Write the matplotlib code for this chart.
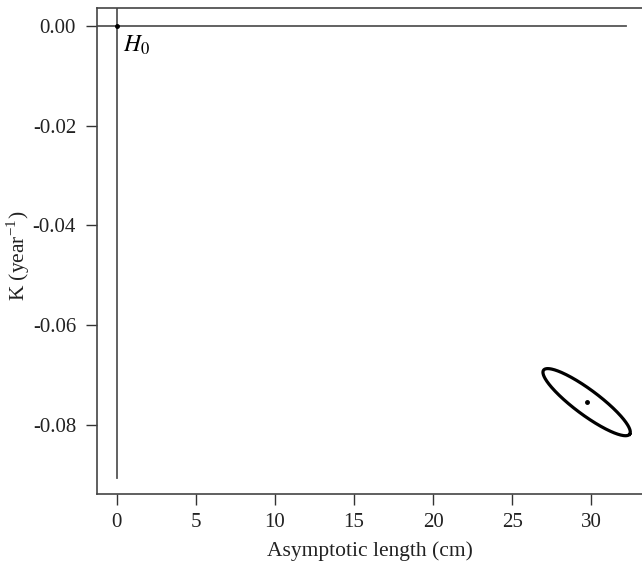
import numpy as np
import matplotlib.pyplot as plt

# datos
h0_x = [0.0]
h0_y = [0.0]
estim_x = [29.7]          # longitud asintotica estimada (cm)
estim_y = [-0.0754]       # K estimado (year^-1)
# semi-ejes de la elipse de confianza (dx, dy)
eje_mayor = [2.72, -0.00642]
eje_menor = [0.47, 0.0020]
xticks = [0, 5, 10, 15, 20, 25, 30]
yticks = [0.00, -0.02, -0.04, -0.06, -0.08]

plt.rcParams['font.family'] = ['Liberation Serif', 'DejaVu Serif']
plt.rcParams['mathtext.fontset'] = 'stix'

fig = plt.figure(figsize=(6.42, 5.62), dpi=100)
ax = fig.add_axes([0.151, 0.121, 0.849, 0.865])

# lineas de referencia en cero
ax.axhline(0, color='#555555', lw=1.3, xmax=(32.2 + 1.25) / (33.2 + 1.25))
ax.plot([0, 0], [0.0036, -0.0905], color='#555555', lw=1.3)
ax.plot(h0_x, h0_y, 'o', color='black', ms=2.5)
ax.text(0.4, -0.0015, '$H_0$', fontsize=17, va='top', ha='left')

# elipse
t = np.linspace(0, 2 * np.pi, 300)
ex = estim_x[0] + eje_mayor[0] * np.cos(t) + eje_menor[0] * np.sin(t)
ey = estim_y[0] + eje_mayor[1] * np.cos(t) + eje_menor[1] * np.sin(t)
ax.plot(ex, ey, color='black', lw=2.3)
ax.plot(estim_x, estim_y, 'o', color='black', ms=2.5)

ax.set_xlim(-1.25, 33.2)
ax.set_ylim(-0.0938, 0.0036)
ax.set_xticks(xticks)
ax.set_yticks(yticks)
ax.set_yticklabels(['%.2f' % v for v in yticks])
ax.tick_params(direction='out', length=8, width=1, colors='#333333',
               labelcolor='#222222', labelsize=15)
ax.tick_params(axis='y', pad=7)
ax.tick_params(axis='x', pad=6)
for s in ['left', 'bottom', 'top']:
    ax.spines[s].set_color('#444444')
    ax.spines[s].set_linewidth(1.2)
ax.spines['right'].set_visible(False)

ax.set_xlabel('Asymptotic length (cm)', fontsize=15.5, color='#222222', labelpad=6)
ax.set_ylabel('K (year$^{\\mathregular{-1}}$)', fontsize=15.5, color='#222222')
ax.yaxis.set_label_coords(-0.12, 0.49)

fig.savefig('out.png', dpi=100)
